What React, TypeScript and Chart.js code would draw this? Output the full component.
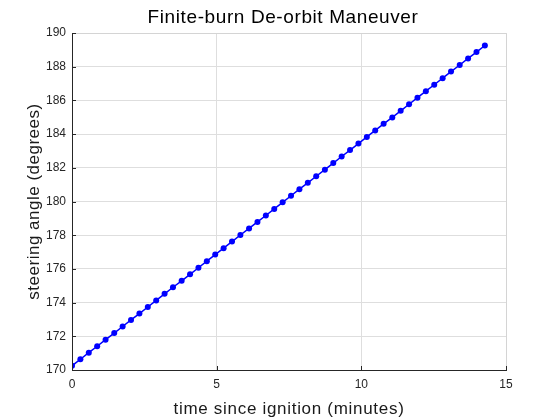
import React, { useEffect, useRef } from "react";
import { Chart, registerables } from "chart.js";

Chart.register(...registerables);

const timeMinutes = [
  0.0, 0.29, 0.58, 0.87, 1.16, 1.46, 1.75, 2.04, 2.33, 2.62,
  2.91, 3.2, 3.49, 3.79, 4.08, 4.37, 4.66, 4.95, 5.24, 5.53,
  5.82, 6.12, 6.41, 6.7, 6.99, 7.28, 7.57, 7.86, 8.15, 8.44,
  8.74, 9.03, 9.32, 9.61, 9.9, 10.19, 10.48, 10.77, 11.07, 11.36,
  11.65, 11.94, 12.23, 12.52, 12.81, 13.1, 13.4, 13.69, 13.98, 14.27,
];

const steeringAngle = [
  170.25, 170.64, 171.03, 171.41, 171.8, 172.19, 172.58, 172.97, 173.35, 173.74,
  174.13, 174.52, 174.91, 175.29, 175.68, 176.07, 176.46, 176.85, 177.23, 177.62,
  178.01, 178.4, 178.79, 179.17, 179.56, 179.95, 180.34, 180.73, 181.11, 181.5,
  181.89, 182.28, 182.67, 183.05, 183.44, 183.83, 184.22, 184.61, 184.99, 185.38,
  185.77, 186.16, 186.55, 186.93, 187.32, 187.71, 188.1, 188.49, 188.87, 189.26,
];

const xTicks = [0, 5, 10, 15];
const yTicks = [170, 172, 174, 176, 178, 180, 182, 184, 186, 188, 190];

const titleText = "Finite-burn De-orbit Maneuver";
const xTitle = "time since ignition (minutes)";
const yTitle = "steering angle (degrees)";

const FONT = "'Liberation Sans', Arial, Helvetica, sans-serif";
const AXIS_COLOR = "#262626";

const boxPlugin = {
  id: "matlabBox",
  afterDraw(chart: any) {
    const { ctx, chartArea, scales } = chart;
    const { left, right, top, bottom } = chartArea;
    ctx.save();
    // top/right light box
    ctx.strokeStyle = "#d4d4d4";
    ctx.lineWidth = 1;
    ctx.beginPath();
    ctx.moveTo(left, Math.round(top) + 0.5);
    ctx.lineTo(right + 0.5, Math.round(top) + 0.5);
    ctx.lineTo(right + 0.5, bottom);
    ctx.stroke();
    // main axes
    ctx.strokeStyle = AXIS_COLOR;
    ctx.beginPath();
    ctx.moveTo(Math.round(left) + 0.5, top);
    ctx.lineTo(Math.round(left) + 0.5, Math.round(bottom) + 0.5);
    ctx.lineTo(right + 1, Math.round(bottom) + 0.5);
    ctx.stroke();
    // inward ticks
    const len = 4;
    ctx.beginPath();
    xTicks.forEach((v) => {
      const x = Math.round(scales.x.getPixelForValue(v)) + 0.5;
      ctx.moveTo(x, bottom);
      ctx.lineTo(x, bottom - len);
    });
    yTicks.forEach((v) => {
      const y = Math.round(scales.y.getPixelForValue(v)) + 0.5;
      ctx.moveTo(left, y);
      ctx.lineTo(left + len, y);
    });
    ctx.stroke();

    // titles
    const cx = (left + right) / 2;
    const cy = (top + bottom) / 2;
    ctx.fillStyle = "#000000";
    ctx.textAlign = "center";
    ctx.textBaseline = "alphabetic";
    (ctx as any).letterSpacing = "0.6px";
    ctx.font = `19px ${FONT}`;
    ctx.fillText(titleText, 283, 23);

    (ctx as any).letterSpacing = "0.7px";
    ctx.font = `17px ${FONT}`;
    ctx.fillStyle = "#1a1a1a";
    ctx.fillText(xTitle, cx, 414);

    (ctx as any).letterSpacing = "0.5px";
    ctx.translate(39, cy);
    ctx.rotate(-Math.PI / 2);
    ctx.fillText(yTitle, 0, 0);
    ctx.restore();
  },
};

export default function App() {
  const ref = useRef<HTMLCanvasElement | null>(null);

  useEffect(() => {
    if (!ref.current) return;
    const data = timeMinutes.map((t, i) => ({ x: t, y: steeringAngle[i] }));
    const chart = new Chart(ref.current, {
      type: "line",
      data: {
        datasets: [
          {
            data,
            borderColor: "#0000ff",
            backgroundColor: "#0000ff",
            borderWidth: 1.5,
            pointRadius: 3,
            pointBorderWidth: 0,
            pointBackgroundColor: "#0000ff",
            tension: 0,
            fill: false,
          },
        ],
      },
      options: {
        responsive: false,
        animation: false,
        layout: { padding: { left: 0, right: 54, top: 33, bottom: 0 } },
        plugins: {
          legend: { display: false },
          tooltip: { enabled: false },
          title: { display: false },
        },
        scales: {
          x: {
            type: "linear",
            min: 0,
            max: 15,
            afterBuildTicks: (s: any) => {
              s.ticks = xTicks.map((v) => ({ value: v }));
            },
            afterFit: (s: any) => {
              s.height = 50;
            },
            ticks: {
              color: AXIS_COLOR,
              font: { family: FONT, size: 12 },
              padding: 7,
              maxRotation: 0,
            },
            grid: { color: "#dedede", drawTicks: false, lineWidth: 1 },
            border: { display: false },
            title: { display: false },
          },
          y: {
            type: "linear",
            min: 170,
            max: 190,
            afterBuildTicks: (s: any) => {
              s.ticks = yTicks.map((v) => ({ value: v }));
            },
            afterFit: (s: any) => {
              s.width = 72;
            },
            ticks: {
              color: AXIS_COLOR,
              font: { family: FONT, size: 12 },
              padding: 6,
            },
            grid: { color: "#dedede", drawTicks: false, lineWidth: 1 },
            border: { display: false },
            title: { display: false },
          },
        },
      },
      plugins: [boxPlugin],
    });
    return () => chart.destroy();
  }, []);

  return (
    <div style={{ position: "absolute", left: 0, top: 0, width: 560, height: 420, background: "#ffffff" }}>
      <canvas ref={ref} width={560} height={420} style={{ width: 560, height: 420 }} />
    </div>
  );
}
